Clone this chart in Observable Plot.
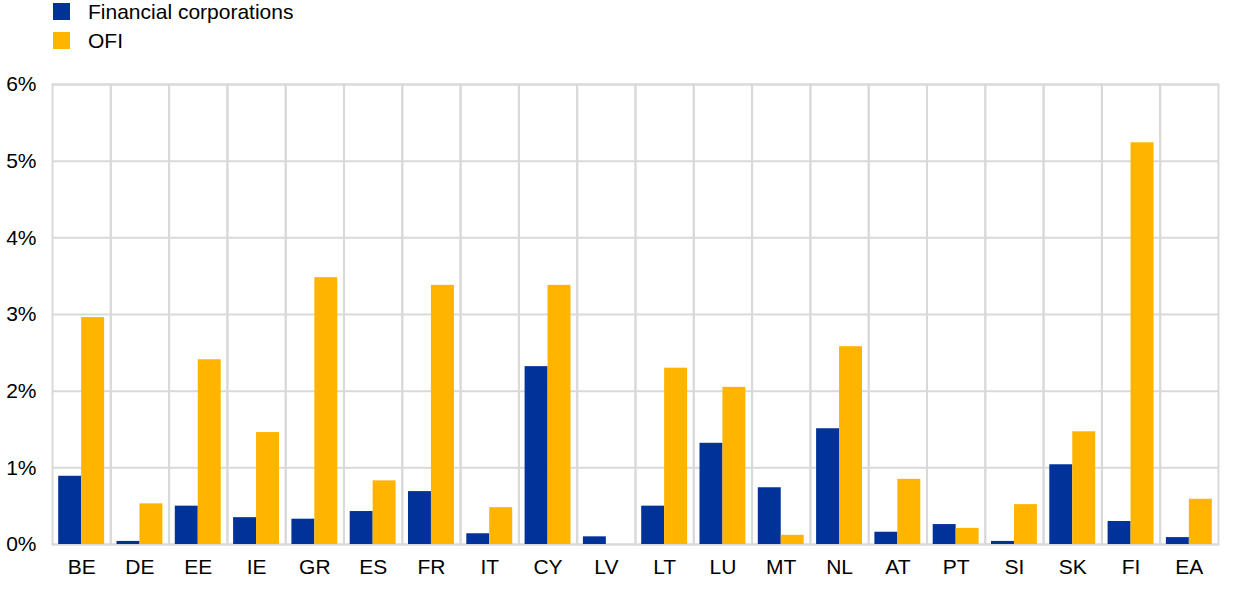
<!DOCTYPE html>
<html>
<head>
<meta charset="utf-8">
<script src="https://cdn.jsdelivr.net/npm/d3@7"></script>
<script src="https://cdn.jsdelivr.net/npm/@observablehq/plot@0.6"></script>
<style>
  body { margin: 0; background: #fff; font-family: "Liberation Sans", Arial, sans-serif; }
  #legend { position: relative; height: 60px; width: 1240px; }
  .item { position: absolute; left: 0; height: 20px; font-size: 21px; line-height: 20px; color: #000; }
  .sw { position: absolute; left: 53px; top: 2px; width: 17px; height: 17px; }
  .lab { position: absolute; left: 88px; top: 1px; white-space: nowrap; }
</style>
</head>
<body>
<div id="legend"></div>
<div id="chart"></div>
<script>
const countries = ["BE","DE","EE","IE","GR","ES","FR","IT","CY","LV","LT","LU","MT","NL","AT","PT","SI","SK","FI","EA"];
const financialCorporations = [0.89,0.04,0.50,0.35,0.33,0.43,0.69,0.14,2.32,0.10,0.50,1.32,0.74,1.51,0.16,0.26,0.04,1.04,0.30,0.09];
const ofi = [2.96,0.53,2.41,1.46,3.48,0.83,3.38,0.48,3.38,0.00,2.30,2.05,0.12,2.58,0.85,0.21,0.52,1.47,5.24,0.59];
const seriesNames = ["Financial corporations","OFI"];
const seriesColors = ["#003299","#ffb400"];
const yTicks = [0,1,2,3,4,5,6];

const data = countries.flatMap((c, i) => [
  {country: c, series: seriesNames[0], value: financialCorporations[i]},
  {country: c, series: seriesNames[1], value: ofi[i]}
]);

const legend = document.getElementById("legend");
seriesNames.forEach((name, i) => {
  const item = document.createElement("div");
  item.className = "item";
  item.style.top = (i === 0 ? 1 : 30) + "px";
  item.innerHTML = `<span class="sw" style="background:${seriesColors[i]}"></span><span class="lab">${name}</span>`;
  legend.appendChild(item);
});

const chart = Plot.plot({
  width: 1240,
  height: 529,
  marginTop: 24,
  marginBottom: 45,
  marginLeft: 52,
  marginRight: 22,
  style: {fontFamily: "'Liberation Sans', Arial, sans-serif", fontSize: "21px", color: "#000", background: "#fff"},
  fx: {domain: countries, padding: 0, round: false, label: null, tickSize: 0, tickPadding: 15, axis: "bottom"},
  x: {domain: seriesNames, axis: null, paddingInner: 0, paddingOuter: 0.27, round: false},
  y: {domain: [0, 6], ticks: yTicks, tickFormat: d => d + "%", tickSize: 0, tickPadding: 16, label: null},
  color: {domain: seriesNames, range: seriesColors},
  marks: [
    Plot.gridY(yTicks, {stroke: "#d9d9d9", strokeWidth: 2, strokeOpacity: 1}),
    Plot.frame({stroke: "#d9d9d9", strokeWidth: 2}),
    Plot.barY(data, {fx: "country", x: "series", y: "value", fill: "series"})
  ]
});
document.getElementById("chart").appendChild(chart);
</script>
</body>
</html>
